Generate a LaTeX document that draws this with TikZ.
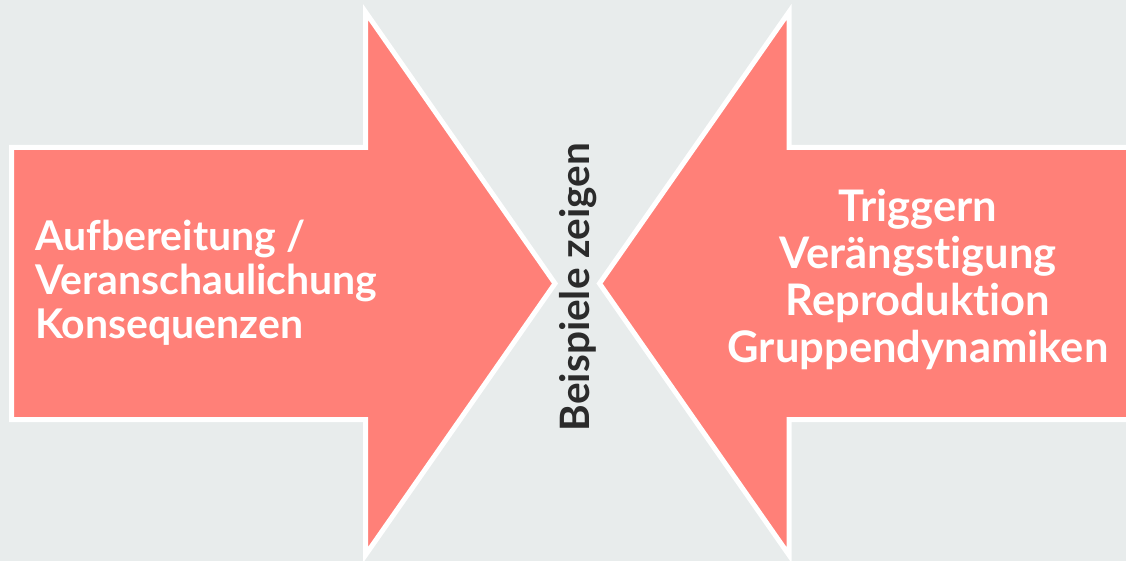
\documentclass[tikz,border=0pt]{standalone}
\usepackage{fontspec}
\setmainfont{Lato}[UprightFont=* Bold, BoldFont=* Bold, Ligatures=NoCommon]
\definecolor{bgcol}{HTML}{E8ECEC}
\definecolor{arrowfill}{HTML}{FF8078}
\definecolor{darktext}{HTML}{2B2B2B}
\tikzset{
  bigarrow/.style={fill=arrowfill, draw=white, line width=5pt, line join=miter, miter limit=20},
  arrowtext/.style={text=white, inner sep=0pt},
  midtext/.style={text=darktext, font=\fontsize{40.5}{44}\selectfont, inner sep=0pt, rotate=90}
}
\begin{document}
\begin{tikzpicture}[x=1pt, y=-1pt]
  \useasboundingbox (0,0) rectangle (1126,561);
  \clip (0,0) rectangle (1126,561);
  \fill[bgcol] (0,0) rectangle (1126,561);

  % arrow pointing right
  \draw[bigarrow] (11.5,147.5) -- (365.5,147.5) -- (365.5,12) -- (555,283.5)
    -- (365.5,555) -- (365.5,419.5) -- (11.5,419.5) -- cycle;

  % arrow pointing left
  \draw[bigarrow] (1145,147.5) -- (789,147.5) -- (789,12) -- (599.5,283.5)
    -- (789,555) -- (789,419.5) -- (1145,419.5) -- cycle;

  \node[arrowtext, anchor=west, align=left, font=\fontsize{41}{44}\selectfont] (pro) at (35,283)
    {Aufbereitung /\\Veranschaulichung\\Konsequenzen};

  \node[arrowtext, align=center, font=\fontsize{43.5}{47}\selectfont] (contra) at (918,280)
    {Triggern\\Verängstigung\\Reproduktion\\Gruppendynamiken};

  \node[midtext] (mid) at (578,287) {Beispiele zeigen};
\end{tikzpicture}
\end{document}
